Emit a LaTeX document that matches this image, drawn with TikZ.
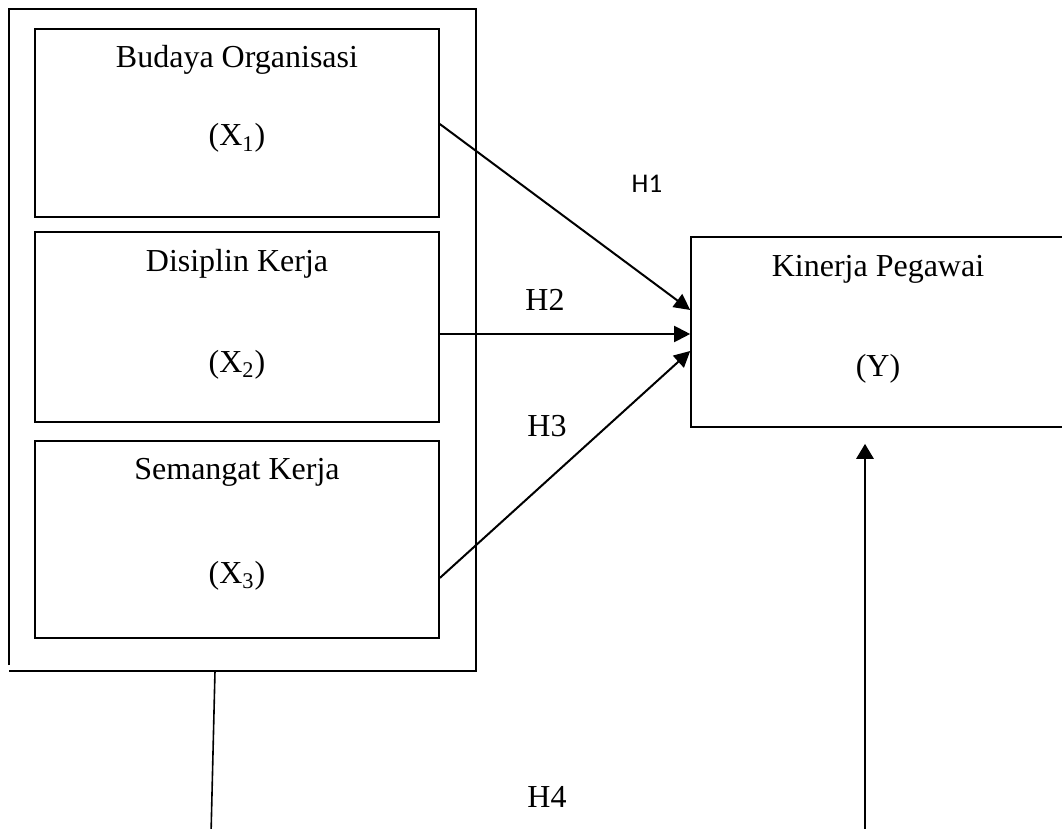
\documentclass[tikz,border=0pt]{standalone}
\usepackage{fontspec}
\setmainfont{Liberation Serif}
\newfontfamily\hfont{Carlito}
\usepackage{tikz}
\usetikzlibrary{positioning,arrows.meta,calc}

\tikzset{
	varbox/.style={draw,line width=0.8pt,minimum width=202pt,inner sep=0pt},
	lbl/.style={anchor=base,inner sep=0pt,font=\fontsize{16}{19}\selectfont},
	hyp/.style={line width=1pt,-{Triangle[length=8pt,width=8pt]}}
}

\begin{document}
\begin{tikzpicture}[x=0.5pt,y=-0.5pt]
		
		\clip (0,0) rectangle (1062,829);
		
		\draw[line width=0.8pt]
		(9,665) -- (9,9) -- (476,9) -- (476,671) -- (9,671);
		
		\node[varbox,minimum height=94pt] (x1) at (237,123) {};
		
		\node[varbox,minimum height=95pt] (x2) at (237,327) {};
		
		\node[varbox,minimum height=98.5pt] (x3) at (237,539.5) {};
		
		\node[varbox,minimum width=187pt,minimum height=95pt] (ky) at (878,332) {};
		
		\node[lbl] (t1a) at (237,68) {Budaya Organisasi};
		\node[lbl] (t1b) at (237,146) {(X\textsubscript{1})};
		
		\node[lbl] (t2a) at (237,271) {Disiplin Kerja};
		\node[lbl] (t2b) at (237,372) {(X\textsubscript{2})};
		
		\node[lbl] (t3a) at (237,480) {Semangat Kerja};
		\node[lbl] (t3b) at (237,583) {(X\textsubscript{3})};
		
		\node[lbl] (tya) at (878,277) {Kinerja Pegawai};
		\node[lbl] (tyb) at (878,377) {(Y)};
		
		\draw[hyp]
		($(x1.east)+(0,1)$) -- ($(ky.west)+(0,-22)$);
		
		\draw[hyp]
		($(x2.east)+(0,7)$) -- ($(ky.west)+(0,2)$);
		
		\draw[hyp]
		($(x3.east)+(0,38.5)$) -- ($(ky.west)+(0,19)$);
		
		\node[anchor=base,inner sep=0pt,font=\hfont\fontsize{13.5}{16}\selectfont]
		(h1) at (647,193) {H1};
		
		\node[lbl] (h2) at (545,311) {H2};
		
		\node[lbl] (h3) at (547,437) {H3};
		
		\node[lbl] (h4) at (547,807) {H4};
		
		\coordinate (fb) at (215,671);
		\coordinate (fe) at (211,835);
		\draw[line width=0.8pt] (fb) -- (fe);
		
		\coordinate (yb) at (865,835);
		\draw[line width=1.4pt,-{Triangle[length=7.5pt,width=8.5pt]}]
		(yb) -- ($(ky.south)+(-13,16)$);
		
	\end{tikzpicture}
\end{document}
